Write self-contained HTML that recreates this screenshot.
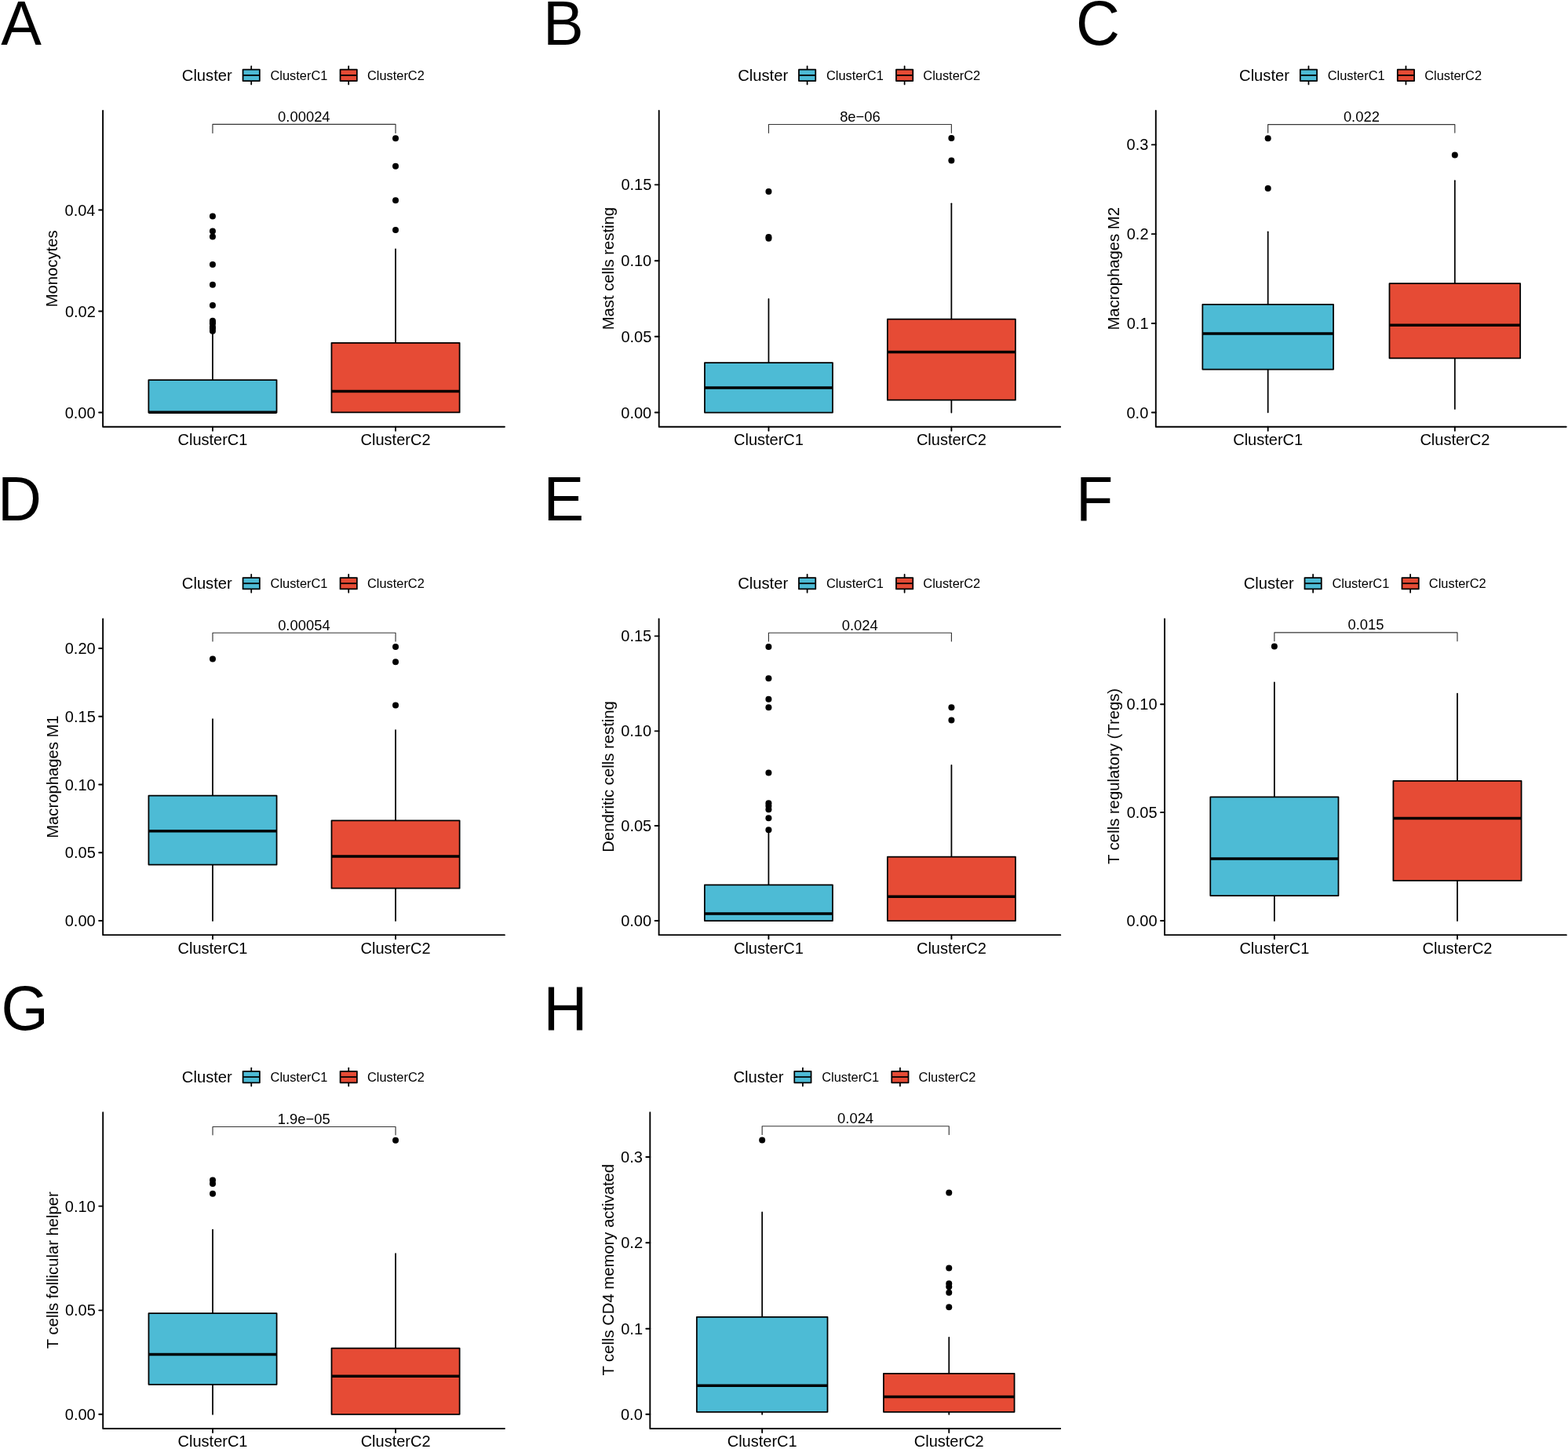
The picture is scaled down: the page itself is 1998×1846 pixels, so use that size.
<!DOCTYPE html>
<html><head><meta charset="utf-8"><title>Immune cell boxplots</title>
<style>html,body{margin:0;padding:0;background:#fff;} svg{display:block;}</style></head>
<body><svg width="1998" height="1846" viewBox="0 0 1998 1846" font-family="Liberation Sans, Arial, Helvetica, sans-serif" fill="#000">
<rect x="0" y="0" width="1998" height="1846" fill="#fff"/>
<line x1="270.95" y1="425.50" x2="270.95" y2="484.00" stroke="#000" stroke-width="1.75" stroke-linecap="round"/>
<rect x="189.37" y="484.00" width="163.16" height="41.40" fill="#4DBBD5" stroke="#000" stroke-width="1.75" stroke-linejoin="round"/>
<line x1="189.37" y1="525.35" x2="352.54" y2="525.35" stroke="#000" stroke-width="3.5" stroke-linecap="butt"/>
<circle cx="270.95" cy="275.60" r="4.0"/>
<circle cx="270.95" cy="294.60" r="4.0"/>
<circle cx="270.95" cy="301.50" r="4.0"/>
<circle cx="270.95" cy="337.10" r="4.0"/>
<circle cx="270.95" cy="362.70" r="4.0"/>
<circle cx="270.95" cy="389.10" r="4.0"/>
<circle cx="270.95" cy="408.80" r="4.0"/>
<circle cx="270.95" cy="410.60" r="4.0"/>
<circle cx="270.95" cy="412.20" r="4.0"/>
<circle cx="270.95" cy="416.60" r="4.0"/>
<circle cx="270.95" cy="418.40" r="4.0"/>
<circle cx="270.95" cy="421.80" r="4.0"/>
<line x1="504.05" y1="317.40" x2="504.05" y2="436.80" stroke="#000" stroke-width="1.75" stroke-linecap="round"/>
<rect x="422.46" y="436.80" width="163.16" height="88.60" fill="#E64B35" stroke="#000" stroke-width="1.75" stroke-linejoin="round"/>
<line x1="422.46" y1="498.40" x2="585.63" y2="498.40" stroke="#000" stroke-width="3.5" stroke-linecap="butt"/>
<circle cx="504.05" cy="176.20" r="4.0"/>
<circle cx="504.05" cy="211.70" r="4.0"/>
<circle cx="504.05" cy="255.20" r="4.0"/>
<circle cx="504.05" cy="292.90" r="4.0"/>
<path d="M131.10,141.05V543.80H642.95" fill="none" stroke="#000" stroke-width="1.9" stroke-linecap="round" stroke-linejoin="round"/>
<line x1="126.10" y1="525.50" x2="131.10" y2="525.50" stroke="#000" stroke-width="1.9" stroke-linecap="round"/>
<line x1="126.10" y1="396.53" x2="131.10" y2="396.53" stroke="#000" stroke-width="1.9" stroke-linecap="round"/>
<line x1="126.10" y1="267.55" x2="131.10" y2="267.55" stroke="#000" stroke-width="1.9" stroke-linecap="round"/>
<line x1="270.95" y1="543.80" x2="270.95" y2="548.80" stroke="#000" stroke-width="1.9" stroke-linecap="round"/>
<line x1="504.05" y1="543.80" x2="504.05" y2="548.80" stroke="#000" stroke-width="1.9" stroke-linecap="round"/>
<text x="82.67" y="532.55" font-size="20" text-anchor="start" >0.00</text>
<text x="82.92" y="403.58" font-size="20" text-anchor="start" >0.02</text>
<text x="82.55" y="274.60" font-size="20" text-anchor="start" >0.04</text>
<text x="226.52" y="567.20" font-size="20" text-anchor="start" >ClusterC1</text>
<text x="459.61" y="567.20" font-size="20" text-anchor="start" >ClusterC2</text>
<text transform="translate(73.40,341.95) rotate(-90)" x="-49.38" y="0" font-size="20.25">Monocytes</text>
<polyline points="270.95,169.40 270.95,158.40 504.05,158.40 504.05,169.40" fill="none" stroke="#363636" stroke-width="1.15" stroke-linecap="round" stroke-linejoin="round"/>
<text x="354.12" y="154.90" font-size="18.4" text-anchor="start" >0.00024</text>
<text x="231.80" y="102.90" font-size="20.2" text-anchor="start" >Cluster</text>
<line x1="320.20" y1="84.40" x2="320.20" y2="107.40" stroke="#000" stroke-width="1.75" stroke-linecap="round"/>
<rect x="309.55" y="88.70" width="21.3" height="14.4" fill="#4DBBD5" stroke="#000" stroke-width="1.75" stroke-linejoin="round"/>
<line x1="309.55" y1="95.90" x2="330.85" y2="95.90" stroke="#000" stroke-width="1.75" stroke-linecap="butt"/>
<text x="344.52" y="101.75" font-size="16.4" text-anchor="start" >ClusterC1</text>
<line x1="444.20" y1="84.40" x2="444.20" y2="107.40" stroke="#000" stroke-width="1.75" stroke-linecap="round"/>
<rect x="433.55" y="88.70" width="21.3" height="14.4" fill="#E64B35" stroke="#000" stroke-width="1.75" stroke-linejoin="round"/>
<line x1="433.55" y1="95.90" x2="454.85" y2="95.90" stroke="#000" stroke-width="1.75" stroke-linecap="butt"/>
<text x="467.93" y="101.75" font-size="16.4" text-anchor="start" >ClusterC2</text>
<text transform="translate(1.18,56.90) scale(1,1.035)" x="0" y="0" font-size="77.5">A</text>
<line x1="979.45" y1="380.98" x2="979.45" y2="462.06" stroke="#000" stroke-width="1.75" stroke-linecap="round"/>
<rect x="897.93" y="462.06" width="163.04" height="63.44" fill="#4DBBD5" stroke="#000" stroke-width="1.75" stroke-linejoin="round"/>
<line x1="897.93" y1="494.03" x2="1060.96" y2="494.03" stroke="#000" stroke-width="3.5" stroke-linecap="butt"/>
<circle cx="979.45" cy="243.88" r="4.0"/>
<circle cx="979.45" cy="302.01" r="4.0"/>
<circle cx="979.45" cy="303.71" r="4.0"/>
<line x1="1212.35" y1="259.31" x2="1212.35" y2="406.54" stroke="#000" stroke-width="1.75" stroke-linecap="round"/>
<line x1="1212.35" y1="509.67" x2="1212.35" y2="525.50" stroke="#000" stroke-width="1.75" stroke-linecap="round"/>
<rect x="1130.84" y="406.54" width="163.04" height="103.13" fill="#E64B35" stroke="#000" stroke-width="1.75" stroke-linejoin="round"/>
<line x1="1130.84" y1="448.53" x2="1293.87" y2="448.53" stroke="#000" stroke-width="3.5" stroke-linecap="butt"/>
<circle cx="1212.35" cy="175.93" r="4.0"/>
<circle cx="1212.35" cy="204.59" r="4.0"/>
<path d="M839.70,141.05V543.80H1351.15" fill="none" stroke="#000" stroke-width="1.9" stroke-linecap="round" stroke-linejoin="round"/>
<line x1="834.70" y1="525.50" x2="839.70" y2="525.50" stroke="#000" stroke-width="1.9" stroke-linecap="round"/>
<line x1="834.70" y1="428.79" x2="839.70" y2="428.79" stroke="#000" stroke-width="1.9" stroke-linecap="round"/>
<line x1="834.70" y1="332.27" x2="839.70" y2="332.27" stroke="#000" stroke-width="1.9" stroke-linecap="round"/>
<line x1="834.70" y1="235.36" x2="839.70" y2="235.36" stroke="#000" stroke-width="1.9" stroke-linecap="round"/>
<line x1="979.45" y1="543.80" x2="979.45" y2="548.80" stroke="#000" stroke-width="1.9" stroke-linecap="round"/>
<line x1="1212.35" y1="543.80" x2="1212.35" y2="548.80" stroke="#000" stroke-width="1.9" stroke-linecap="round"/>
<text x="791.28" y="532.55" font-size="20" text-anchor="start" >0.00</text>
<text x="791.40" y="435.84" font-size="20" text-anchor="start" >0.05</text>
<text x="791.28" y="339.32" font-size="20" text-anchor="start" >0.10</text>
<text x="791.40" y="242.41" font-size="20" text-anchor="start" >0.15</text>
<text x="935.01" y="567.20" font-size="20" text-anchor="start" >ClusterC1</text>
<text x="1167.92" y="567.20" font-size="20" text-anchor="start" >ClusterC2</text>
<text transform="translate(782.13,341.95) rotate(-90)" x="-78.38" y="0" font-size="20.25">Mast cells resting</text>
<polyline points="979.45,169.31 979.45,158.49 1212.35,158.49 1212.35,169.31" fill="none" stroke="#363636" stroke-width="1.15" stroke-linecap="round" stroke-linejoin="round"/>
<text x="1070.15" y="154.99" font-size="18.4" text-anchor="start" >8e−06</text>
<text x="940.20" y="102.90" font-size="20.2" text-anchor="start" >Cluster</text>
<line x1="1028.60" y1="84.40" x2="1028.60" y2="107.40" stroke="#000" stroke-width="1.75" stroke-linecap="round"/>
<rect x="1017.95" y="88.70" width="21.3" height="14.4" fill="#4DBBD5" stroke="#000" stroke-width="1.75" stroke-linejoin="round"/>
<line x1="1017.95" y1="95.90" x2="1039.25" y2="95.90" stroke="#000" stroke-width="1.75" stroke-linecap="butt"/>
<text x="1052.93" y="101.75" font-size="16.4" text-anchor="start" >ClusterC1</text>
<line x1="1152.60" y1="84.40" x2="1152.60" y2="107.40" stroke="#000" stroke-width="1.75" stroke-linecap="round"/>
<rect x="1141.95" y="88.70" width="21.3" height="14.4" fill="#E64B35" stroke="#000" stroke-width="1.75" stroke-linejoin="round"/>
<line x1="1141.95" y1="95.90" x2="1163.25" y2="95.90" stroke="#000" stroke-width="1.75" stroke-linecap="butt"/>
<text x="1176.33" y="101.75" font-size="16.4" text-anchor="start" >ClusterC2</text>
<text transform="translate(691.92,56.90) scale(1,1.035)" x="0" y="0" font-size="77.5">B</text>
<line x1="1615.68" y1="295.25" x2="1615.68" y2="387.91" stroke="#000" stroke-width="1.75" stroke-linecap="round"/>
<line x1="1615.68" y1="470.56" x2="1615.68" y2="525.30" stroke="#000" stroke-width="1.75" stroke-linecap="round"/>
<rect x="1532.33" y="387.91" width="166.70" height="82.65" fill="#4DBBD5" stroke="#000" stroke-width="1.75" stroke-linejoin="round"/>
<line x1="1532.33" y1="425.03" x2="1699.03" y2="425.03" stroke="#000" stroke-width="3.5" stroke-linecap="butt"/>
<circle cx="1615.68" cy="176.17" r="4.0"/>
<circle cx="1615.68" cy="239.91" r="4.0"/>
<line x1="1853.82" y1="230.21" x2="1853.82" y2="361.19" stroke="#000" stroke-width="1.75" stroke-linecap="round"/>
<line x1="1853.82" y1="456.25" x2="1853.82" y2="520.90" stroke="#000" stroke-width="1.75" stroke-linecap="round"/>
<rect x="1770.47" y="361.19" width="166.70" height="95.06" fill="#E64B35" stroke="#000" stroke-width="1.75" stroke-linejoin="round"/>
<line x1="1770.47" y1="414.23" x2="1937.17" y2="414.23" stroke="#000" stroke-width="3.5" stroke-linecap="butt"/>
<circle cx="1853.82" cy="197.39" r="4.0"/>
<path d="M1472.80,141.05V543.80H1995.75" fill="none" stroke="#000" stroke-width="1.9" stroke-linecap="round" stroke-linejoin="round"/>
<line x1="1467.80" y1="525.50" x2="1472.80" y2="525.50" stroke="#000" stroke-width="1.9" stroke-linecap="round"/>
<line x1="1467.80" y1="412.03" x2="1472.80" y2="412.03" stroke="#000" stroke-width="1.9" stroke-linecap="round"/>
<line x1="1467.80" y1="298.15" x2="1472.80" y2="298.15" stroke="#000" stroke-width="1.9" stroke-linecap="round"/>
<line x1="1467.80" y1="184.38" x2="1472.80" y2="184.38" stroke="#000" stroke-width="1.9" stroke-linecap="round"/>
<line x1="1615.68" y1="543.80" x2="1615.68" y2="548.80" stroke="#000" stroke-width="1.9" stroke-linecap="round"/>
<line x1="1853.82" y1="543.80" x2="1853.82" y2="548.80" stroke="#000" stroke-width="1.9" stroke-linecap="round"/>
<text x="1435.50" y="532.55" font-size="20" text-anchor="start" >0.0</text>
<text x="1435.75" y="419.08" font-size="20" text-anchor="start" >0.1</text>
<text x="1435.75" y="305.20" font-size="20" text-anchor="start" >0.2</text>
<text x="1435.62" y="191.43" font-size="20" text-anchor="start" >0.3</text>
<text x="1571.24" y="567.20" font-size="20" text-anchor="start" >ClusterC1</text>
<text x="1809.38" y="567.20" font-size="20" text-anchor="start" >ClusterC2</text>
<text transform="translate(1426.35,341.95) rotate(-90)" x="-78.56" y="0" font-size="20.25">Macrophages M2</text>
<polyline points="1615.68,169.07 1615.68,158.66 1853.82,158.66 1853.82,169.07" fill="none" stroke="#363636" stroke-width="1.15" stroke-linecap="round" stroke-linejoin="round"/>
<text x="1711.88" y="155.16" font-size="18.4" text-anchor="start" >0.022</text>
<text x="1579.05" y="102.90" font-size="20.2" text-anchor="start" >Cluster</text>
<line x1="1667.45" y1="84.40" x2="1667.45" y2="107.40" stroke="#000" stroke-width="1.75" stroke-linecap="round"/>
<rect x="1656.80" y="88.70" width="21.3" height="14.4" fill="#4DBBD5" stroke="#000" stroke-width="1.75" stroke-linejoin="round"/>
<line x1="1656.80" y1="95.90" x2="1678.10" y2="95.90" stroke="#000" stroke-width="1.75" stroke-linecap="butt"/>
<text x="1691.78" y="101.75" font-size="16.4" text-anchor="start" >ClusterC1</text>
<line x1="1791.45" y1="84.40" x2="1791.45" y2="107.40" stroke="#000" stroke-width="1.75" stroke-linecap="round"/>
<rect x="1780.80" y="88.70" width="21.3" height="14.4" fill="#E64B35" stroke="#000" stroke-width="1.75" stroke-linejoin="round"/>
<line x1="1780.80" y1="95.90" x2="1802.10" y2="95.90" stroke="#000" stroke-width="1.75" stroke-linecap="butt"/>
<text x="1815.17" y="101.75" font-size="16.4" text-anchor="start" >ClusterC2</text>
<text transform="translate(1370.92,56.90) scale(1,1.035)" x="0" y="0" font-size="77.5">C</text>
<line x1="270.99" y1="916.23" x2="270.99" y2="1013.73" stroke="#000" stroke-width="1.75" stroke-linecap="round"/>
<line x1="270.99" y1="1101.52" x2="270.99" y2="1173.00" stroke="#000" stroke-width="1.75" stroke-linecap="round"/>
<rect x="189.42" y="1013.73" width="163.15" height="87.79" fill="#4DBBD5" stroke="#000" stroke-width="1.75" stroke-linejoin="round"/>
<line x1="189.42" y1="1058.78" x2="352.56" y2="1058.78" stroke="#000" stroke-width="3.5" stroke-linecap="butt"/>
<circle cx="270.99" cy="839.54" r="4.0"/>
<line x1="504.06" y1="930.04" x2="504.06" y2="1045.26" stroke="#000" stroke-width="1.75" stroke-linecap="round"/>
<line x1="504.06" y1="1131.66" x2="504.06" y2="1173.00" stroke="#000" stroke-width="1.75" stroke-linecap="round"/>
<rect x="422.49" y="1045.26" width="163.15" height="86.39" fill="#E64B35" stroke="#000" stroke-width="1.75" stroke-linejoin="round"/>
<line x1="422.49" y1="1091.11" x2="585.63" y2="1091.11" stroke="#000" stroke-width="3.5" stroke-linecap="butt"/>
<circle cx="504.06" cy="823.93" r="4.0"/>
<circle cx="504.06" cy="843.35" r="4.0"/>
<circle cx="504.06" cy="898.51" r="4.0"/>
<path d="M131.15,788.35V1191.15H642.95" fill="none" stroke="#000" stroke-width="1.9" stroke-linecap="round" stroke-linejoin="round"/>
<line x1="126.15" y1="1173.00" x2="131.15" y2="1173.00" stroke="#000" stroke-width="1.9" stroke-linecap="round"/>
<line x1="126.15" y1="1086.21" x2="131.15" y2="1086.21" stroke="#000" stroke-width="1.9" stroke-linecap="round"/>
<line x1="126.15" y1="999.52" x2="131.15" y2="999.52" stroke="#000" stroke-width="1.9" stroke-linecap="round"/>
<line x1="126.15" y1="912.72" x2="131.15" y2="912.72" stroke="#000" stroke-width="1.9" stroke-linecap="round"/>
<line x1="126.15" y1="825.93" x2="131.15" y2="825.93" stroke="#000" stroke-width="1.9" stroke-linecap="round"/>
<line x1="270.99" y1="1191.15" x2="270.99" y2="1196.15" stroke="#000" stroke-width="1.9" stroke-linecap="round"/>
<line x1="504.06" y1="1191.15" x2="504.06" y2="1196.15" stroke="#000" stroke-width="1.9" stroke-linecap="round"/>
<text x="82.73" y="1180.05" font-size="20" text-anchor="start" >0.00</text>
<text x="82.85" y="1093.26" font-size="20" text-anchor="start" >0.05</text>
<text x="82.73" y="1006.57" font-size="20" text-anchor="start" >0.10</text>
<text x="82.85" y="919.77" font-size="20" text-anchor="start" >0.15</text>
<text x="82.73" y="832.98" font-size="20" text-anchor="start" >0.20</text>
<text x="226.55" y="1214.55" font-size="20" text-anchor="start" >ClusterC1</text>
<text x="459.62" y="1214.55" font-size="20" text-anchor="start" >ClusterC2</text>
<text transform="translate(73.58,989.28) rotate(-90)" x="-78.56" y="0" font-size="20.25">Macrophages M1</text>
<polyline points="270.99,816.92 270.99,806.21 504.06,806.21 504.06,816.92" fill="none" stroke="#363636" stroke-width="1.15" stroke-linecap="round" stroke-linejoin="round"/>
<text x="354.15" y="802.71" font-size="18.4" text-anchor="start" >0.00054</text>
<text x="231.82" y="750.25" font-size="20.2" text-anchor="start" >Cluster</text>
<line x1="320.22" y1="731.75" x2="320.22" y2="754.75" stroke="#000" stroke-width="1.75" stroke-linecap="round"/>
<rect x="309.57" y="736.05" width="21.3" height="14.4" fill="#4DBBD5" stroke="#000" stroke-width="1.75" stroke-linejoin="round"/>
<line x1="309.57" y1="743.25" x2="330.87" y2="743.25" stroke="#000" stroke-width="1.75" stroke-linecap="butt"/>
<text x="344.55" y="749.10" font-size="16.4" text-anchor="start" >ClusterC1</text>
<line x1="444.22" y1="731.75" x2="444.22" y2="754.75" stroke="#000" stroke-width="1.75" stroke-linecap="round"/>
<rect x="433.57" y="736.05" width="21.3" height="14.4" fill="#E64B35" stroke="#000" stroke-width="1.75" stroke-linejoin="round"/>
<line x1="433.57" y1="743.25" x2="454.87" y2="743.25" stroke="#000" stroke-width="1.75" stroke-linecap="butt"/>
<text x="467.95" y="749.10" font-size="16.4" text-anchor="start" >ClusterC2</text>
<text transform="translate(-2.88,663.10) scale(1,1.035)" x="0" y="0" font-size="77.5">D</text>
<line x1="979.40" y1="1059.39" x2="979.40" y2="1127.29" stroke="#000" stroke-width="1.75" stroke-linecap="round"/>
<rect x="897.85" y="1127.29" width="163.10" height="45.71" fill="#4DBBD5" stroke="#000" stroke-width="1.75" stroke-linejoin="round"/>
<line x1="897.85" y1="1164.00" x2="1060.95" y2="1164.00" stroke="#000" stroke-width="3.5" stroke-linecap="butt"/>
<circle cx="979.40" cy="823.96" r="4.0"/>
<circle cx="979.40" cy="864.17" r="4.0"/>
<circle cx="979.40" cy="890.87" r="4.0"/>
<circle cx="979.40" cy="901.27" r="4.0"/>
<circle cx="979.40" cy="984.38" r="4.0"/>
<circle cx="979.40" cy="1023.28" r="4.0"/>
<circle cx="979.40" cy="1026.68" r="4.0"/>
<circle cx="979.40" cy="1031.28" r="4.0"/>
<circle cx="979.40" cy="1042.29" r="4.0"/>
<circle cx="979.40" cy="1057.19" r="4.0"/>
<line x1="1212.40" y1="974.78" x2="1212.40" y2="1091.59" stroke="#000" stroke-width="1.75" stroke-linecap="round"/>
<rect x="1130.85" y="1091.59" width="163.10" height="81.41" fill="#E64B35" stroke="#000" stroke-width="1.75" stroke-linejoin="round"/>
<line x1="1130.85" y1="1142.20" x2="1293.95" y2="1142.20" stroke="#000" stroke-width="3.5" stroke-linecap="butt"/>
<circle cx="1212.40" cy="901.27" r="4.0"/>
<circle cx="1212.40" cy="917.57" r="4.0"/>
<path d="M839.60,788.35V1191.15H1351.25" fill="none" stroke="#000" stroke-width="1.9" stroke-linecap="round" stroke-linejoin="round"/>
<line x1="834.60" y1="1173.00" x2="839.60" y2="1173.00" stroke="#000" stroke-width="1.9" stroke-linecap="round"/>
<line x1="834.60" y1="1051.99" x2="839.60" y2="1051.99" stroke="#000" stroke-width="1.9" stroke-linecap="round"/>
<line x1="834.60" y1="931.37" x2="839.60" y2="931.37" stroke="#000" stroke-width="1.9" stroke-linecap="round"/>
<line x1="834.60" y1="810.36" x2="839.60" y2="810.36" stroke="#000" stroke-width="1.9" stroke-linecap="round"/>
<line x1="979.40" y1="1191.15" x2="979.40" y2="1196.15" stroke="#000" stroke-width="1.9" stroke-linecap="round"/>
<line x1="1212.40" y1="1191.15" x2="1212.40" y2="1196.15" stroke="#000" stroke-width="1.9" stroke-linecap="round"/>
<text x="791.18" y="1180.05" font-size="20" text-anchor="start" >0.00</text>
<text x="791.30" y="1059.04" font-size="20" text-anchor="start" >0.05</text>
<text x="791.18" y="938.42" font-size="20" text-anchor="start" >0.10</text>
<text x="791.30" y="817.41" font-size="20" text-anchor="start" >0.15</text>
<text x="934.96" y="1214.55" font-size="20" text-anchor="start" >ClusterC1</text>
<text x="1167.96" y="1214.55" font-size="20" text-anchor="start" >ClusterC2</text>
<text transform="translate(782.03,989.28) rotate(-90)" x="-96.38" y="0" font-size="20.25">Dendritic cells resting</text>
<polyline points="979.40,816.96 979.40,806.26 1212.40,806.26 1212.40,816.96" fill="none" stroke="#363636" stroke-width="1.15" stroke-linecap="round" stroke-linejoin="round"/>
<text x="1072.78" y="802.76" font-size="18.4" text-anchor="start" >0.024</text>
<text x="940.20" y="750.25" font-size="20.2" text-anchor="start" >Cluster</text>
<line x1="1028.60" y1="731.75" x2="1028.60" y2="754.75" stroke="#000" stroke-width="1.75" stroke-linecap="round"/>
<rect x="1017.95" y="736.05" width="21.3" height="14.4" fill="#4DBBD5" stroke="#000" stroke-width="1.75" stroke-linejoin="round"/>
<line x1="1017.95" y1="743.25" x2="1039.25" y2="743.25" stroke="#000" stroke-width="1.75" stroke-linecap="butt"/>
<text x="1052.93" y="749.10" font-size="16.4" text-anchor="start" >ClusterC1</text>
<line x1="1152.60" y1="731.75" x2="1152.60" y2="754.75" stroke="#000" stroke-width="1.75" stroke-linecap="round"/>
<rect x="1141.95" y="736.05" width="21.3" height="14.4" fill="#E64B35" stroke="#000" stroke-width="1.75" stroke-linejoin="round"/>
<line x1="1141.95" y1="743.25" x2="1163.25" y2="743.25" stroke="#000" stroke-width="1.75" stroke-linecap="butt"/>
<text x="1176.33" y="749.10" font-size="16.4" text-anchor="start" >ClusterC2</text>
<text transform="translate(692.62,663.10) scale(1,1.035)" x="0" y="0" font-size="77.5">E</text>
<line x1="1623.87" y1="869.38" x2="1623.87" y2="1015.49" stroke="#000" stroke-width="1.75" stroke-linecap="round"/>
<line x1="1623.87" y1="1141.08" x2="1623.87" y2="1173.00" stroke="#000" stroke-width="1.75" stroke-linecap="round"/>
<rect x="1542.28" y="1015.49" width="163.18" height="125.59" fill="#4DBBD5" stroke="#000" stroke-width="1.75" stroke-linejoin="round"/>
<line x1="1542.28" y1="1093.94" x2="1705.46" y2="1093.94" stroke="#000" stroke-width="3.5" stroke-linecap="butt"/>
<circle cx="1623.87" cy="823.55" r="4.0"/>
<line x1="1856.98" y1="883.59" x2="1856.98" y2="994.97" stroke="#000" stroke-width="1.75" stroke-linecap="round"/>
<line x1="1856.98" y1="1121.96" x2="1856.98" y2="1173.00" stroke="#000" stroke-width="1.75" stroke-linecap="round"/>
<rect x="1775.39" y="994.97" width="163.18" height="126.99" fill="#E64B35" stroke="#000" stroke-width="1.75" stroke-linejoin="round"/>
<line x1="1775.39" y1="1042.51" x2="1938.57" y2="1042.51" stroke="#000" stroke-width="3.5" stroke-linecap="butt"/>
<path d="M1484.00,788.35V1191.15H1995.90" fill="none" stroke="#000" stroke-width="1.9" stroke-linecap="round" stroke-linejoin="round"/>
<line x1="1479.00" y1="1173.00" x2="1484.00" y2="1173.00" stroke="#000" stroke-width="1.9" stroke-linecap="round"/>
<line x1="1479.00" y1="1034.90" x2="1484.00" y2="1034.90" stroke="#000" stroke-width="1.9" stroke-linecap="round"/>
<line x1="1479.00" y1="897.20" x2="1484.00" y2="897.20" stroke="#000" stroke-width="1.9" stroke-linecap="round"/>
<line x1="1623.87" y1="1191.15" x2="1623.87" y2="1196.15" stroke="#000" stroke-width="1.9" stroke-linecap="round"/>
<line x1="1856.98" y1="1191.15" x2="1856.98" y2="1196.15" stroke="#000" stroke-width="1.9" stroke-linecap="round"/>
<text x="1435.58" y="1180.05" font-size="20" text-anchor="start" >0.00</text>
<text x="1435.70" y="1041.95" font-size="20" text-anchor="start" >0.05</text>
<text x="1435.58" y="904.25" font-size="20" text-anchor="start" >0.10</text>
<text x="1579.43" y="1214.55" font-size="20" text-anchor="start" >ClusterC1</text>
<text x="1812.54" y="1214.55" font-size="20" text-anchor="start" >ClusterC2</text>
<text transform="translate(1426.42,989.28) rotate(-90)" x="-111.62" y="0" font-size="20.25">T cells regulatory (Tregs)</text>
<polyline points="1623.87,816.64 1623.87,805.93 1856.98,805.93 1856.98,816.64" fill="none" stroke="#363636" stroke-width="1.15" stroke-linecap="round" stroke-linejoin="round"/>
<text x="1717.42" y="802.43" font-size="18.4" text-anchor="start" >0.015</text>
<text x="1584.72" y="750.25" font-size="20.2" text-anchor="start" >Cluster</text>
<line x1="1673.12" y1="731.75" x2="1673.12" y2="754.75" stroke="#000" stroke-width="1.75" stroke-linecap="round"/>
<rect x="1662.47" y="736.05" width="21.3" height="14.4" fill="#4DBBD5" stroke="#000" stroke-width="1.75" stroke-linejoin="round"/>
<line x1="1662.47" y1="743.25" x2="1683.78" y2="743.25" stroke="#000" stroke-width="1.75" stroke-linecap="butt"/>
<text x="1697.45" y="749.10" font-size="16.4" text-anchor="start" >ClusterC1</text>
<line x1="1797.12" y1="731.75" x2="1797.12" y2="754.75" stroke="#000" stroke-width="1.75" stroke-linecap="round"/>
<rect x="1786.47" y="736.05" width="21.3" height="14.4" fill="#E64B35" stroke="#000" stroke-width="1.75" stroke-linejoin="round"/>
<line x1="1786.47" y1="743.25" x2="1807.78" y2="743.25" stroke="#000" stroke-width="1.75" stroke-linecap="butt"/>
<text x="1820.85" y="749.10" font-size="16.4" text-anchor="start" >ClusterC2</text>
<text transform="translate(1370.92,663.10) scale(1,1.035)" x="0" y="0" font-size="77.5">F</text>
<line x1="271.03" y1="1566.69" x2="271.03" y2="1673.05" stroke="#000" stroke-width="1.75" stroke-linecap="round"/>
<line x1="271.03" y1="1763.81" x2="271.03" y2="1801.80" stroke="#000" stroke-width="1.75" stroke-linecap="round"/>
<rect x="189.46" y="1673.05" width="163.13" height="90.77" fill="#4DBBD5" stroke="#000" stroke-width="1.75" stroke-linejoin="round"/>
<line x1="189.46" y1="1725.53" x2="352.59" y2="1725.53" stroke="#000" stroke-width="3.5" stroke-linecap="butt"/>
<circle cx="271.03" cy="1503.61" r="4.0"/>
<circle cx="271.03" cy="1507.91" r="4.0"/>
<circle cx="271.03" cy="1520.81" r="4.0"/>
<line x1="504.07" y1="1597.08" x2="504.07" y2="1717.63" stroke="#000" stroke-width="1.75" stroke-linecap="round"/>
<rect x="422.51" y="1717.63" width="163.13" height="84.17" fill="#E64B35" stroke="#000" stroke-width="1.75" stroke-linejoin="round"/>
<line x1="422.51" y1="1753.22" x2="585.64" y2="1753.22" stroke="#000" stroke-width="3.5" stroke-linecap="butt"/>
<circle cx="504.07" cy="1452.73" r="4.0"/>
<path d="M131.20,1417.15V1819.95H642.95" fill="none" stroke="#000" stroke-width="1.9" stroke-linecap="round" stroke-linejoin="round"/>
<line x1="126.20" y1="1801.80" x2="131.20" y2="1801.80" stroke="#000" stroke-width="1.9" stroke-linecap="round"/>
<line x1="126.20" y1="1669.35" x2="131.20" y2="1669.35" stroke="#000" stroke-width="1.9" stroke-linecap="round"/>
<line x1="126.20" y1="1536.60" x2="131.20" y2="1536.60" stroke="#000" stroke-width="1.9" stroke-linecap="round"/>
<line x1="271.03" y1="1819.95" x2="271.03" y2="1824.95" stroke="#000" stroke-width="1.9" stroke-linecap="round"/>
<line x1="504.07" y1="1819.95" x2="504.07" y2="1824.95" stroke="#000" stroke-width="1.9" stroke-linecap="round"/>
<text x="82.77" y="1808.85" font-size="20" text-anchor="start" >0.00</text>
<text x="82.90" y="1676.40" font-size="20" text-anchor="start" >0.05</text>
<text x="82.77" y="1543.65" font-size="20" text-anchor="start" >0.10</text>
<text x="226.59" y="1843.35" font-size="20" text-anchor="start" >ClusterC1</text>
<text x="459.64" y="1843.35" font-size="20" text-anchor="start" >ClusterC2</text>
<text transform="translate(73.62,1618.08) rotate(-90)" x="-100.06" y="0" font-size="20.25">T cells follicular helper</text>
<polyline points="271.03,1445.83 271.03,1435.54 504.07,1435.54 504.07,1445.83" fill="none" stroke="#363636" stroke-width="1.15" stroke-linecap="round" stroke-linejoin="round"/>
<text x="353.74" y="1432.04" font-size="18.4" text-anchor="start" >1.9e−05</text>
<text x="231.85" y="1379.05" font-size="20.2" text-anchor="start" >Cluster</text>
<line x1="320.25" y1="1360.55" x2="320.25" y2="1383.55" stroke="#000" stroke-width="1.75" stroke-linecap="round"/>
<rect x="309.60" y="1364.85" width="21.3" height="14.4" fill="#4DBBD5" stroke="#000" stroke-width="1.75" stroke-linejoin="round"/>
<line x1="309.60" y1="1372.05" x2="330.90" y2="1372.05" stroke="#000" stroke-width="1.75" stroke-linecap="butt"/>
<text x="344.57" y="1377.90" font-size="16.4" text-anchor="start" >ClusterC1</text>
<line x1="444.25" y1="1360.55" x2="444.25" y2="1383.55" stroke="#000" stroke-width="1.75" stroke-linecap="round"/>
<rect x="433.60" y="1364.85" width="21.3" height="14.4" fill="#E64B35" stroke="#000" stroke-width="1.75" stroke-linejoin="round"/>
<line x1="433.60" y1="1372.05" x2="454.90" y2="1372.05" stroke="#000" stroke-width="1.75" stroke-linecap="butt"/>
<text x="467.97" y="1377.90" font-size="16.4" text-anchor="start" >ClusterC2</text>
<text transform="translate(1.62,1311.80) scale(1,1.035)" x="0" y="0" font-size="77.5">G</text>
<line x1="971.15" y1="1544.48" x2="971.15" y2="1677.94" stroke="#000" stroke-width="1.75" stroke-linecap="round"/>
<line x1="971.15" y1="1798.80" x2="971.15" y2="1801.80" stroke="#000" stroke-width="1.75" stroke-linecap="round"/>
<rect x="887.82" y="1677.94" width="166.66" height="120.86" fill="#4DBBD5" stroke="#000" stroke-width="1.75" stroke-linejoin="round"/>
<line x1="887.82" y1="1765.18" x2="1054.49" y2="1765.18" stroke="#000" stroke-width="3.5" stroke-linecap="butt"/>
<circle cx="971.15" cy="1452.54" r="4.0"/>
<line x1="1209.25" y1="1703.76" x2="1209.25" y2="1749.78" stroke="#000" stroke-width="1.75" stroke-linecap="round"/>
<line x1="1209.25" y1="1798.80" x2="1209.25" y2="1801.80" stroke="#000" stroke-width="1.75" stroke-linecap="round"/>
<rect x="1125.91" y="1749.78" width="166.66" height="49.02" fill="#E64B35" stroke="#000" stroke-width="1.75" stroke-linejoin="round"/>
<line x1="1125.91" y1="1779.59" x2="1292.58" y2="1779.59" stroke="#000" stroke-width="3.5" stroke-linecap="butt"/>
<circle cx="1209.25" cy="1519.57" r="4.0"/>
<circle cx="1209.25" cy="1615.61" r="4.0"/>
<circle cx="1209.25" cy="1635.32" r="4.0"/>
<circle cx="1209.25" cy="1639.33" r="4.0"/>
<circle cx="1209.25" cy="1646.73" r="4.0"/>
<circle cx="1209.25" cy="1665.24" r="4.0"/>
<path d="M828.30,1417.15V1819.95H1351.15" fill="none" stroke="#000" stroke-width="1.9" stroke-linecap="round" stroke-linejoin="round"/>
<line x1="823.30" y1="1801.80" x2="828.30" y2="1801.80" stroke="#000" stroke-width="1.9" stroke-linecap="round"/>
<line x1="823.30" y1="1692.75" x2="828.30" y2="1692.75" stroke="#000" stroke-width="1.9" stroke-linecap="round"/>
<line x1="823.30" y1="1583.30" x2="828.30" y2="1583.30" stroke="#000" stroke-width="1.9" stroke-linecap="round"/>
<line x1="823.30" y1="1473.95" x2="828.30" y2="1473.95" stroke="#000" stroke-width="1.9" stroke-linecap="round"/>
<line x1="971.15" y1="1819.95" x2="971.15" y2="1824.95" stroke="#000" stroke-width="1.9" stroke-linecap="round"/>
<line x1="1209.25" y1="1819.95" x2="1209.25" y2="1824.95" stroke="#000" stroke-width="1.9" stroke-linecap="round"/>
<text x="791.00" y="1808.85" font-size="20" text-anchor="start" >0.0</text>
<text x="791.25" y="1699.80" font-size="20" text-anchor="start" >0.1</text>
<text x="791.25" y="1590.35" font-size="20" text-anchor="start" >0.2</text>
<text x="791.12" y="1481.00" font-size="20" text-anchor="start" >0.3</text>
<text x="926.72" y="1843.35" font-size="20" text-anchor="start" >ClusterC1</text>
<text x="1164.81" y="1843.35" font-size="20" text-anchor="start" >ClusterC2</text>
<text transform="translate(781.85,1618.08) rotate(-90)" x="-134.50" y="0" font-size="20.25">T cells CD4 memory activated</text>
<polyline points="971.15,1445.44 971.15,1434.73 1209.25,1434.73 1209.25,1445.44" fill="none" stroke="#363636" stroke-width="1.15" stroke-linecap="round" stroke-linejoin="round"/>
<text x="1067.08" y="1431.23" font-size="18.4" text-anchor="start" >0.024</text>
<text x="934.50" y="1379.05" font-size="20.2" text-anchor="start" >Cluster</text>
<line x1="1022.90" y1="1360.55" x2="1022.90" y2="1383.55" stroke="#000" stroke-width="1.75" stroke-linecap="round"/>
<rect x="1012.25" y="1364.85" width="21.3" height="14.4" fill="#4DBBD5" stroke="#000" stroke-width="1.75" stroke-linejoin="round"/>
<line x1="1012.25" y1="1372.05" x2="1033.55" y2="1372.05" stroke="#000" stroke-width="1.75" stroke-linecap="butt"/>
<text x="1047.22" y="1377.90" font-size="16.4" text-anchor="start" >ClusterC1</text>
<line x1="1146.90" y1="1360.55" x2="1146.90" y2="1383.55" stroke="#000" stroke-width="1.75" stroke-linecap="round"/>
<rect x="1136.25" y="1364.85" width="21.3" height="14.4" fill="#E64B35" stroke="#000" stroke-width="1.75" stroke-linejoin="round"/>
<line x1="1136.25" y1="1372.05" x2="1157.55" y2="1372.05" stroke="#000" stroke-width="1.75" stroke-linecap="butt"/>
<text x="1170.62" y="1377.90" font-size="16.4" text-anchor="start" >ClusterC2</text>
<text transform="translate(692.62,1311.80) scale(1,1.035)" x="0" y="0" font-size="77.5">H</text>
</svg></body></html>
